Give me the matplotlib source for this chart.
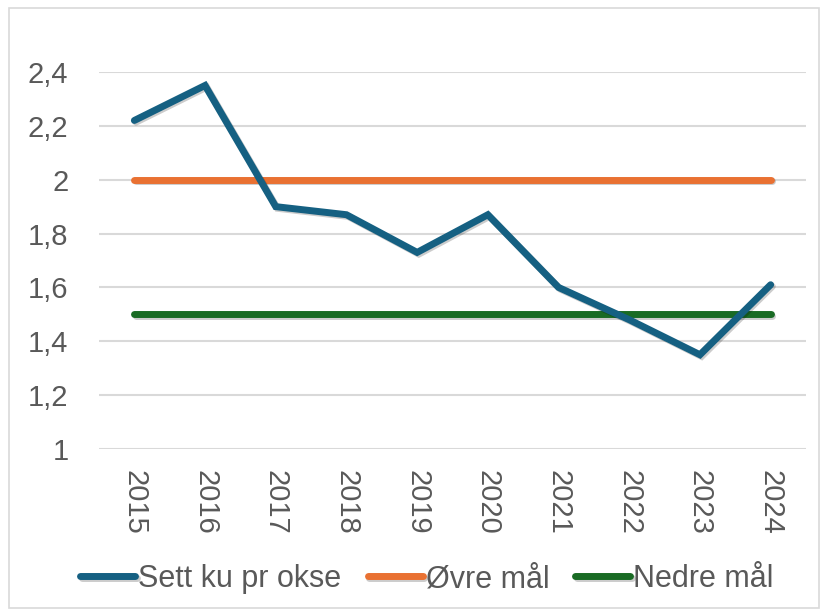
import matplotlib.pyplot as plt
import matplotlib.patheffects as pe
from matplotlib.patches import Rectangle

years = ["2015", "2016", "2017", "2018", "2019", "2020", "2021", "2022", "2023", "2024"]
sett_ku = [2.22, 2.35, 1.90, 1.87, 1.73, 1.87, 1.60, 1.48, 1.35, 1.61]
ovre_maal = [2.0] * 10
nedre_maal = [1.5] * 10
yticks = [1, 1.2, 1.4, 1.6, 1.8, 2, 2.2, 2.4]

plt.rcParams['font.family'] = ['Liberation Sans', 'DejaVu Sans']

fig = plt.figure(figsize=(8.26, 6.16), dpi=100)
ax = fig.add_axes([99/826, 1 - 449/616, (806 - 99)/826, (449 - 72)/616])

shadow = [pe.SimpleLineShadow(offset=(1.2, -1.2), alpha=0.2, shadow_color='k'), pe.Normal()]
x = range(len(years))
ax.plot(x, sett_ku, color='#156082', lw=5, solid_capstyle='round', solid_joinstyle='miter',
        label='Sett ku pr okse', path_effects=shadow, zorder=3)
ax.plot(x, ovre_maal, color='#E97132', lw=5, solid_capstyle='round',
        label='Øvre mål', path_effects=shadow, zorder=2)
ax.plot(x, nedre_maal, color='#196B24', lw=5, solid_capstyle='round',
        label='Nedre mål', path_effects=shadow, zorder=2)

ax.set_xlim(-0.5, len(years) - 0.5)
ax.set_ylim(1, 2.4)
ax.set_yticks(yticks)
ax.set_yticklabels([f"{v:g}".replace('.', ',') for v in yticks])
ax.set_xticks(list(x))
ax.set_xticklabels(years, rotation=-90)
ax.tick_params(axis='y', length=0, pad=22, labelsize=21, labelcolor='#595959')
ax.tick_params(axis='x', length=0, pad=15, labelsize=21, labelcolor='#595959')
ax.grid(axis='y', color='#D9D9D9', lw=1.5)
ax.set_axisbelow(True)
for s in ax.spines.values():
    s.set_visible(False)

leg = fig.legend(loc='center', bbox_to_anchor=(427/826, 1 - 579/616), ncol=3, frameon=False,
                 handlelength=1.8, handletextpad=0.1, columnspacing=0.85,
                 prop={'size': 22})
for t in leg.get_texts():
    t.set_color('#595959')

fig.patches.append(Rectangle((9/826, 8/616), 810/826, 600/616, transform=fig.transFigure,
                             fill=False, edgecolor='#D9D9D9', lw=1.2))

fig.savefig('out.png', dpi=100)
